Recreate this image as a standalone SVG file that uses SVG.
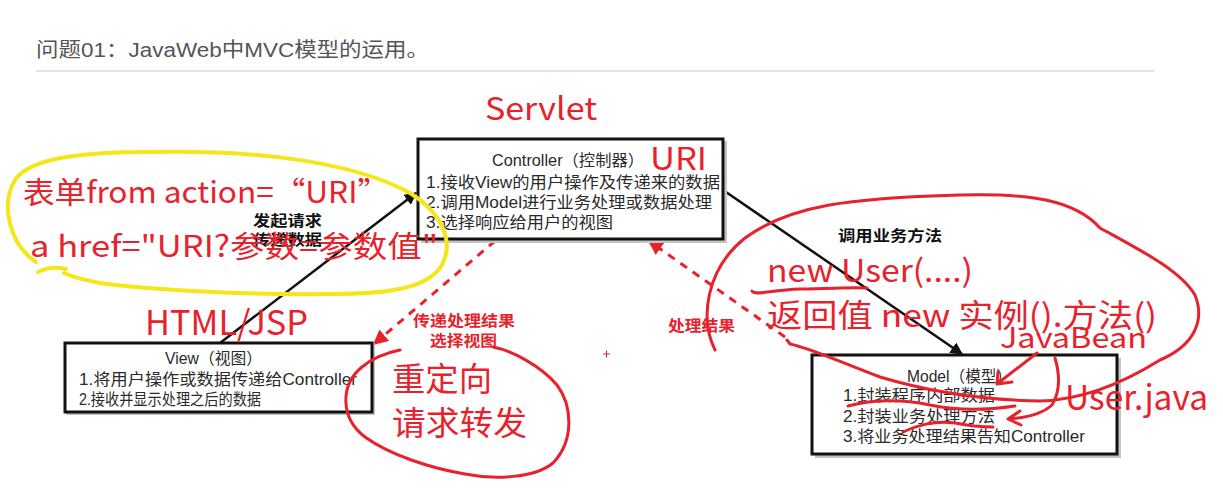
<svg xmlns="http://www.w3.org/2000/svg" width="1223" height="493" viewBox="0 0 1223 493">
<defs>
<style>
.box{fill:#fff;stroke:#111;stroke-width:3}
.shadow{fill:#c4c4c4}
.bt{font-family:"Liberation Sans","Noto Sans CJK SC",sans-serif;font-size:16px;fill:#2a2a2a}
.lbl{font-family:"Noto Sans CJK SC","Liberation Sans",sans-serif;font-size:15px;font-weight:bold}
.red{font-family:"Noto Sans CJK SC","Liberation Sans",sans-serif;fill:#e8222c}
.conn{stroke:#111;stroke-width:2.5;fill:none}
.dash{stroke:#e8222c;stroke-width:3;stroke-dasharray:8 7;fill:none}
.ink{stroke:#e8222c;stroke-width:3;fill:none;stroke-linecap:round;stroke-linejoin:round}
.yel{stroke:#f5e61a;stroke-width:4;fill:none;stroke-linecap:round}
</style>
<marker id="ab" viewBox="0 0 10 10" refX="9" refY="5" markerWidth="5" markerHeight="5" orient="auto" markerUnits="strokeWidth">
<path d="M0,0 L10,5 L0,10 z" fill="#111"/>
</marker>
<marker id="ar" viewBox="0 0 10 10" refX="9" refY="5" markerWidth="5" markerHeight="5" orient="auto" markerUnits="strokeWidth">
<path d="M0,0 L10,5 L0,10 z" fill="#e8222c"/>
</marker>
</defs>
<rect width="1223" height="493" fill="#fff"/>

<g id="title">
<text x="36" y="57" font-family="Liberation Sans,'Noto Sans CJK SC',sans-serif" font-size="20" fill="#555" textLength="393" lengthAdjust="spacingAndGlyphs">问题01：JavaWeb中MVC模型的运用。</text>
<line x1="36" y1="71" x2="1155" y2="71" stroke="#e4e4e4" stroke-width="2"/>
</g>

<g id="connectors">
<line class="conn" x1="220" y1="343" x2="416" y2="193" marker-end="url(#ab)"/>
<line class="conn" x1="723" y1="190" x2="962" y2="354" marker-end="url(#ab)"/>
<line class="dash" x1="495" y1="241" x2="374" y2="344" marker-end="url(#ar)"/>
<line class="dash" x1="785" y1="337" x2="649" y2="241" marker-end="url(#ar)"/>
<text class="lbl" x="253" y="226" fill="#111" textLength="69" lengthAdjust="spacingAndGlyphs">发起请求</text>
<text class="lbl" x="253" y="245" fill="#111" textLength="69" lengthAdjust="spacingAndGlyphs">传递数据</text>
<text class="lbl" x="838" y="241" fill="#111" textLength="104" lengthAdjust="spacingAndGlyphs">调用业务方法</text>
<text class="lbl" x="413" y="326" fill="#e8222c" textLength="102" lengthAdjust="spacingAndGlyphs">传递处理结果</text>
<text class="lbl" x="430" y="346" fill="#e8222c" textLength="67" lengthAdjust="spacingAndGlyphs">选择视图</text>
<text class="lbl" x="668" y="331" fill="#e8222c" textLength="67" lengthAdjust="spacingAndGlyphs">处理结果</text>
</g>

<g id="controller">
<rect class="shadow" x="421" y="141" width="306" height="102"/>
<rect class="box" x="418" y="139" width="305" height="100"/>
<text class="bt" x="492" y="166" textLength="152" lengthAdjust="spacingAndGlyphs">Controller（控制器）</text>
<text class="bt" x="426" y="188" textLength="294" lengthAdjust="spacingAndGlyphs">1.接收View的用户操作及传递来的数据</text>
<text class="bt" x="426" y="208" textLength="286" lengthAdjust="spacingAndGlyphs">2.调用Model进行业务处理或数据处理</text>
<text class="bt" x="426" y="228" textLength="187" lengthAdjust="spacingAndGlyphs">3.选择响应给用户的视图</text>
</g>

<g id="view">
<rect class="shadow" x="66" y="343" width="309" height="72"/>
<rect class="box" x="65" y="343" width="307" height="69"/>
<text class="bt" x="165" y="364" textLength="97" lengthAdjust="spacingAndGlyphs">View（视图）</text>
<text class="bt" x="79" y="385" textLength="278" lengthAdjust="spacingAndGlyphs">1.将用户操作或数据传递给Controller</text>
<text class="bt" x="79" y="405" textLength="182" lengthAdjust="spacingAndGlyphs">2.接收并显示处理之后的数据</text>
</g>

<g id="model">
<rect class="shadow" x="815" y="358" width="306" height="100"/>
<rect class="box" x="812" y="355" width="305" height="99"/>
<text class="bt" x="907" y="382" textLength="105" lengthAdjust="spacingAndGlyphs">Model（模型）</text>
<text class="bt" x="843" y="401" textLength="152" lengthAdjust="spacingAndGlyphs">1.封装程序内部数据</text>
<text class="bt" x="843" y="422" textLength="152" lengthAdjust="spacingAndGlyphs">2.封装业务处理方法</text>
<text class="bt" x="843" y="442" textLength="242" lengthAdjust="spacingAndGlyphs">3.将业务处理结果告知Controller</text>
</g>

<g id="annotations">
<path class="yel" d="M36,262 C10,245 0,205 15,180 C30,158 80,152 150,152 C250,150 350,160 410,193 C445,215 455,245 440,268 C425,288 390,294 330,294 C250,295 150,290 100,283 C85,280 72,277 64,273"/>
<path class="yel" d="M38,272 C48,267 58,267 66,269"/>
<text class="red" x="23" y="203" font-size="30" textLength="366" lengthAdjust="spacingAndGlyphs">表单from action=“URI”</text>
<text class="red" x="30" y="257" font-size="30" textLength="408" lengthAdjust="spacingAndGlyphs">a href="URI?参数=参数值"</text>
<text class="red" x="485" y="120" font-size="31" textLength="112" lengthAdjust="spacingAndGlyphs">Servlet</text>
<text class="red" x="650" y="170" font-size="31" textLength="57" lengthAdjust="spacingAndGlyphs">URI</text>
<text class="red" x="145" y="335" font-size="34" textLength="163" lengthAdjust="spacingAndGlyphs">HTML/JSP</text>
<path class="ink" d="M493,347 C510,350 540,365 557,385 C572,405 575,440 553,463 C535,478 495,480 465,474 C430,468 390,455 365,437 C340,418 340,385 362,367 C375,356 390,352 400,350"/>
<text class="red" x="392" y="391" font-size="33" textLength="100" lengthAdjust="spacingAndGlyphs">重定向</text>
<text class="red" x="392" y="435" font-size="33" textLength="135" lengthAdjust="spacingAndGlyphs">请求转发</text>
<path class="ink" d="M715,350 C700,320 705,270 745,238 C790,205 850,198 960,195 C1030,193 1075,200 1100,228 C1140,250 1180,270 1195,295 C1205,320 1195,345 1160,360 C1120,385 1080,400 1040,401 C980,400 930,392 880,377 C840,362 810,348 790,344 L787,340"/>
<path class="ink" d="M752,291 C755,296 770,290 800,289 C830,289 850,287 867,288"/>
<text class="red" x="767" y="282" font-size="31" textLength="206" lengthAdjust="spacingAndGlyphs">new User(....)</text>
<text class="red" x="767" y="327" font-size="32" textLength="390" lengthAdjust="spacingAndGlyphs">返回值  new 实例().方法()</text>
<text class="red" x="1000" y="348" font-size="28" textLength="147" lengthAdjust="spacingAndGlyphs">JavaBean</text>
<text class="red" x="1065" y="410" font-size="34" textLength="143" lengthAdjust="spacingAndGlyphs">User.java</text>
<path class="ink" d="M1037,353 L997,384 M998,372 L997,384 L1012,382"/>
<path class="ink" d="M1055,358 C1060,375 1060,392 1052,405 C1042,414 1025,418 1008,419 M1020,411 L1008,419 L1021,425"/>
<path class="ink" d="M848,406 C875,399 905,400 930,405 C960,411 990,410 1015,406"/>
<path class="ink" d="M903,432 C915,426 935,420 955,423 C970,426 985,427 993,427"/>
<path d="M603,354 L610,354 M606.5,350.5 L606.5,357.5" stroke="#e8222c" stroke-width="1"/>
</g>
</svg>
